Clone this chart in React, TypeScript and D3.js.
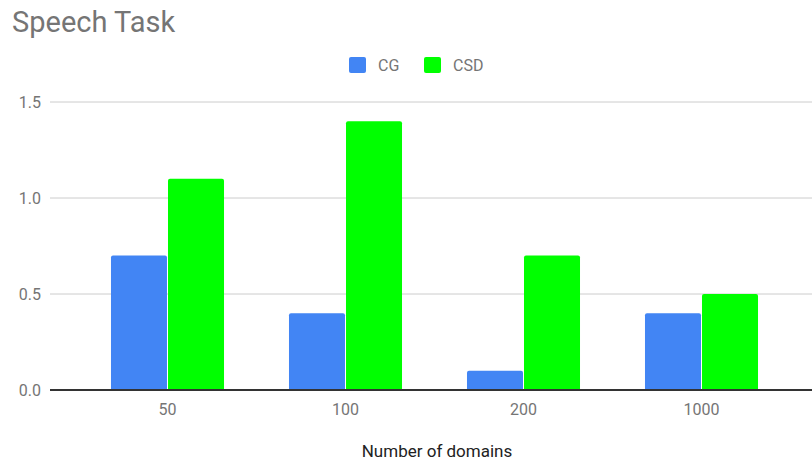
import React from 'react';
import * as d3 from 'd3';

const W = 812;
const H = 462;
const categories = ['50', '100', '200', '1000'];
const seriesNames = ['CG', 'CSD'];
const cgValues = [0.7, 0.4, 0.1, 0.4];
const csdValues = [1.1, 1.4, 0.7, 0.5];
const yTicks = [0, 0.5, 1.0, 1.5];
const colors = ['#4285f4', '#00ff00'];

export default function App() {
  const x0 = d3.scaleBand().domain(categories).range([78.5, 790.5]).paddingInner(0.365).paddingOuter(0.1825);
  const x1 = d3.scaleBand().domain(seriesNames).range([0, x0.bandwidth()]).paddingInner(0.0177);
  const y = d3.scaleLinear().domain([0, 1.5]).range([390, 102]);
  const values = [cgValues, csdValues];

  return (
    <svg width={W} height={H} style={{ position: 'absolute', left: 0, top: 0, fontFamily: 'Roboto, sans-serif' }}>
      <rect width={W} height={H} fill="#fff" />
      <text x={12} y={32} fontSize={29} fill="#757575">Speech Task</text>

      {seriesNames.map((s, i) => {
        const lx = i === 0 ? 349 : 424;
        return (
          <g key={s}>
            <rect x={lx} y={57} width={17} height={16} rx={2} fill={colors[i]} />
            <text x={lx + 29} y={71} fontSize={16} fill="#757575">{s}</text>
          </g>
        );
      })}

      {yTicks.map(t => (
        <g key={t}>
          {t !== 0 && <line x1={50} x2={W} y1={y(t)} y2={y(t)} stroke="#cccccc" strokeWidth={1} />}
          <text x={41} y={y(t)} dy="0.35em" textAnchor="end" fontSize={16} fill="#757575">{t.toFixed(1)}</text>
        </g>
      ))}

      {categories.map((c, ci) => (
        <g key={c} transform={`translate(${x0(c)},0)`}>
          {seriesNames.map((s, si) => {
            const v = values[si][ci];
            const yy = y(v);
            const bx = x1(s)!;
            const bw = x1.bandwidth();
            return (
              <path
                key={s}
                d={`M${bx},390 V${yy + 2} Q${bx},${yy} ${bx + 2},${yy} H${bx + bw - 2} Q${bx + bw},${yy} ${bx + bw},${yy + 2} V390 Z`}
                fill={colors[si]}
              />
            );
          })}
          <text x={x0.bandwidth() / 2} y={415} textAnchor="middle" fontSize={16} fill="#757575">{c}</text>
        </g>
      ))}

      <line x1={50} x2={W} y1={390} y2={390} stroke="#333" strokeWidth={2} />
      <text x={437} y={457} textAnchor="middle" fontSize={17} fill="#222">Number of domains</text>
    </svg>
  );
}
